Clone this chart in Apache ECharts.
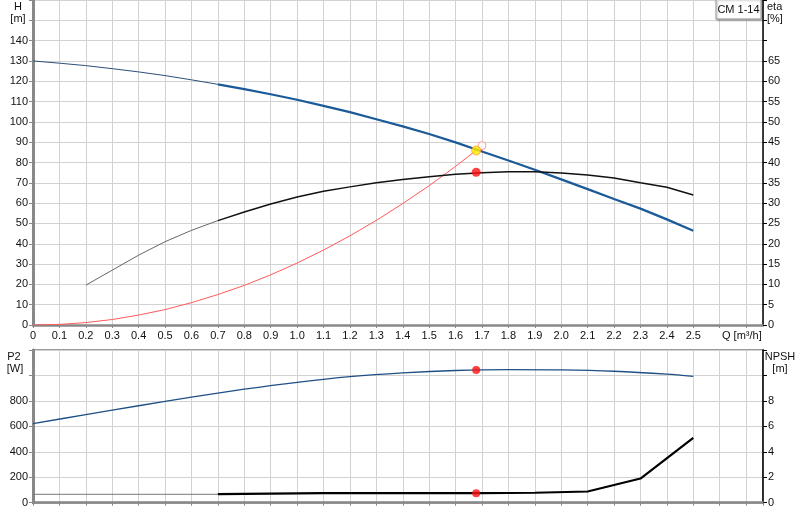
<!DOCTYPE html>
<html>
<head>
<meta charset="utf-8">
<script src="https://cdn.jsdelivr.net/npm/echarts@6/dist/echarts.min.js"></script>
<style>
  html, body { margin: 0; padding: 0; background: #fff; }
  #chart { width: 800px; height: 520px; }
</style>
</head>
<body>
<div id="chart"></div>
<script>
// Q axis values [m3/h]
const qHead = [0, 0.1, 0.2, 0.3, 0.4, 0.5, 0.6, 0.7, 0.8, 0.9, 1.0, 1.1, 1.2,
  1.3, 1.4, 1.5, 1.6, 1.7, 1.8, 1.9, 2.0, 2.1, 2.2, 2.3, 2.4, 2.5];
// head H [m]
const head = [130, 128.9, 127.7, 126.2, 124.6, 122.8, 120.7, 118.5, 116.1, 113.6,
  110.9, 107.9, 104.8, 101.3, 97.8, 94.0, 89.9, 85.4, 81.0, 76.4, 71.7, 66.9,
  62.0, 57.3, 52.0, 46.4];

const qEta = [0.2, 0.3, 0.4, 0.5, 0.6, 0.7, 0.8, 0.9, 1.0, 1.1, 1.2, 1.3, 1.4,
  1.5, 1.6, 1.7, 1.8, 1.9, 2.0, 2.1, 2.2, 2.3, 2.4, 2.5];
// efficiency eta [%]
const eta = [9.8, 13.5, 17.2, 20.5, 23.3, 25.7, 27.8, 29.8, 31.5, 32.9, 34.0,
  35.0, 35.8, 36.5, 37.1, 37.5, 37.7, 37.7, 37.4, 36.9, 36.2, 35.0, 33.9, 32.0];

// system curve [m]
const qSystem = [0, 0.1, 0.2, 0.3, 0.4, 0.5, 0.6, 0.7, 0.8, 0.9, 1.0, 1.1, 1.2,
  1.3, 1.4, 1.5, 1.6, 1.7];
const systemHead = [0, 0.3, 1.2, 2.7, 4.9, 7.6, 11.0, 15.0, 19.5, 24.7, 30.5,
  36.9, 43.9, 51.5, 59.8, 68.6, 78.1, 88.2];

// shaft power P2 [W]
const qPower = [0, 0.2, 0.4, 0.6, 0.8, 1.0, 1.2, 1.4, 1.6, 1.8, 2.0, 2.2, 2.4, 2.5];
const power = [622, 692, 762, 830, 892, 946, 990, 1020, 1039, 1046, 1044, 1033,
  1010, 992];

// NPSH [m]
const qNpshLow = [0, 0.7];
const npshLow = [0.66, 0.66];
const qNpsh = [0.7, 0.9, 1.1, 1.3, 1.5, 1.7, 1.9, 2.1, 2.3, 2.5];
const npsh = [0.68, 0.72, 0.76, 0.76, 0.76, 0.76, 0.78, 0.88, 1.9, 5.1];

// duty point
const dutyQ = 1.678;
const dutyH = 85.9;
const dutyEta = 37.6;
const dutyP2 = 1043;
const dutyNpsh = 0.75;
const requestQ = 1.70;
const requestH = 88.3;

const pairs = (xs, ys) => xs.map((x, i) => [x, ys[i]]);
const headPts = pairs(qHead, head);
const etaPts = pairs(qEta, eta);
const split = 7; // 0.7 m3/h: start of the thick part

const FONT = '"Liberation Sans", Arial, sans-serif';
const gridColor = '#d2d2d2';
const labelStyle = { color: '#111', fontSize: 11, fontFamily: FONT };

function xAxis(gridIndex, showLabels) {
  return {
    type: 'value', gridIndex, min: 0, max: 2.764, interval: 0.1,
    axisLine: { show: true, onZero: false, lineStyle: { color: '#888', width: 2.5 } },
    axisTick: { show: true, length: 3, lineStyle: { color: '#888' } },
    axisLabel: {
      show: showLabels, ...labelStyle, margin: 5, showMaxLabel: false,
      formatter: v => (v === 0 ? '0' : (v > 2.55 ? '' : v.toFixed(1)))
    },
    splitLine: { show: true, lineStyle: { color: gridColor, width: 1 } }
  };
}

function yAxis(gridIndex, pos, max, interval, lastLabel, isLeft) {
  return {
    type: 'value', gridIndex, position: pos, min: 0, max, interval,
    axisLine: { show: true, onZero: false,
      lineStyle: isLeft ? { color: '#888', width: 3 } : { color: '#000', width: 1.5 } },
    axisTick: { show: true, length: 4, lineStyle: { color: isLeft ? '#888' : '#000' } },
    axisLabel: { ...labelStyle, margin: 5, formatter: v => (v > lastLabel ? '' : String(v)) },
    splitLine: { show: isLeft, lineStyle: { color: gridColor, width: 1 } }
  };
}

function label(text, x, y, align) {
  return { type: 'text', z: 101,
    style: { text, x, y, align, verticalAlign: 'middle', font: '11px ' + FONT, fill: '#111' } };
}

const chart = echarts.init(document.getElementById('chart'));

const option = {
  animation: false,
  backgroundColor: '#fff',
  grid: [
    { left: 33, right: 37, top: 0, height: 325 },
    { left: 33, right: 37, top: 350, height: 152.7, show: true, borderColor: '#999', borderWidth: 2 }
  ],
  xAxis: [xAxis(0, true), xAxis(1, false)],
  yAxis: [
    yAxis(0, 'left', 160, 10, 140, true),
    yAxis(0, 'right', 80, 5, 65, false),
    yAxis(1, 'left', 1200, 200, 800, true),
    yAxis(1, 'right', 12, 2, 8, false)
  ],
  graphic: [
    label('H', 18, 7, 'center'),
    label('[m]', 18, 19, 'center'),
    label('eta', 767, 7, 'left'),
    label('[%]', 767, 19, 'left'),
    label('Q [m³/h]', 722, 336, 'left'),
    label('P2', 14, 357, 'center'),
    label('[W]', 15, 369, 'center'),
    label('NPSH', 780, 357, 'center'),
    label('[m]', 780, 369, 'center'),
    {
      type: 'rect', shape: { x: 716, y: -1, width: 45, height: 20 },
      style: { fill: '#fff', stroke: '#999', lineWidth: 1, shadowBlur: 2, shadowOffsetX: 1, shadowOffsetY: 1, shadowColor: 'rgba(0,0,0,0.35)' },
      z: 100
    },
    label('CM 1-14', 738.5, 10, 'center')
  ],
  series: [
    { type: 'line', xAxisIndex: 0, yAxisIndex: 0, data: pairs(qSystem, systemHead), showSymbol: false,
      lineStyle: { color: '#ff5a5a', width: 1 }, z: 3 },
    { type: 'line', xAxisIndex: 0, yAxisIndex: 0, data: headPts.slice(0, split + 1), showSymbol: false,
      lineStyle: { color: '#2c4f7a', width: 1 }, z: 4 },
    { type: 'line', xAxisIndex: 0, yAxisIndex: 0, data: headPts.slice(split), showSymbol: false,
      lineStyle: { color: '#1b5a98', width: 2.2 }, z: 4 },
    { type: 'line', xAxisIndex: 0, yAxisIndex: 1, data: etaPts.slice(0, 6), showSymbol: false,
      lineStyle: { color: '#666', width: 1 }, z: 4 },
    { type: 'line', xAxisIndex: 0, yAxisIndex: 1, data: etaPts.slice(5), showSymbol: false,
      lineStyle: { color: '#111', width: 1.5 }, z: 4 },
    { type: 'scatter', xAxisIndex: 0, yAxisIndex: 0, data: [[requestQ, requestH]], symbolSize: 8,
      itemStyle: { color: '#fff', borderColor: '#ff8080', borderWidth: 1 }, z: 6 },
    { type: 'scatter', xAxisIndex: 0, yAxisIndex: 0, data: [[dutyQ, dutyH]], symbolSize: 9,
      itemStyle: { color: '#ffee00', borderColor: '#ff9a30', borderWidth: 1 }, z: 7 },
    { type: 'scatter', xAxisIndex: 0, yAxisIndex: 1, data: [[dutyQ, dutyEta]], symbolSize: 9,
      itemStyle: { color: '#ff1010' }, z: 7 },

    { type: 'line', xAxisIndex: 1, yAxisIndex: 2, data: pairs(qPower, power), showSymbol: false, smooth: 0.3,
      lineStyle: { color: '#1f4f86', width: 1.3 }, z: 4 },
    { type: 'line', xAxisIndex: 1, yAxisIndex: 3, data: pairs(qNpshLow, npshLow), showSymbol: false,
      lineStyle: { color: '#777', width: 1 }, z: 4 },
    { type: 'line', xAxisIndex: 1, yAxisIndex: 3, data: pairs(qNpsh, npsh), showSymbol: false,
      lineStyle: { color: '#000', width: 2.2 }, z: 4 },
    { type: 'scatter', xAxisIndex: 1, yAxisIndex: 2, data: [[dutyQ, dutyP2]], symbolSize: 8,
      itemStyle: { color: '#ff1010' }, z: 7 },
    { type: 'scatter', xAxisIndex: 1, yAxisIndex: 3, data: [[dutyQ, dutyNpsh]], symbolSize: 8,
      itemStyle: { color: '#ff1010' }, z: 7 }
  ]
};

chart.setOption(option);
</script>
</body>
</html>
